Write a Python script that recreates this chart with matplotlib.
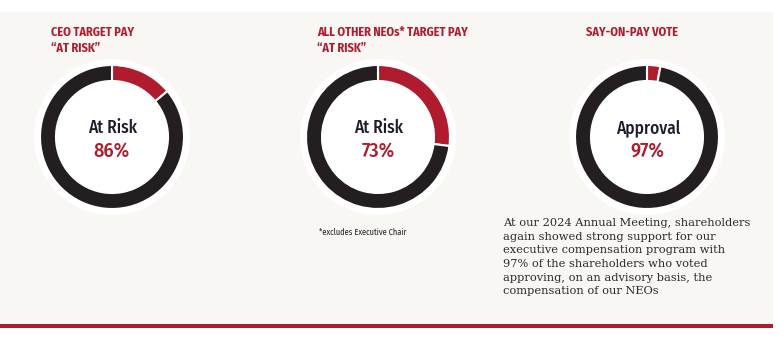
"""Pay-at-risk and say-on-pay donut panel."""

import matplotlib.pyplot as plt
from matplotlib.patches import Circle, Rectangle

plt.rcParams["font.family"] = ["Fira Sans Condensed", "DejaVu Sans"]

titles = ["CEO TARGET PAY\n\u201cAT RISK\u201d",
          "ALL OTHER NEOs* TARGET PAY\n\u201cAT RISK\u201d",
          "SAY-ON-PAY VOTE"]
center_labels = ["At Risk", "At Risk", "Approval"]
values = [86, 73, 97]
footnote = "*excludes Executive Chair"
paragraph = ("At our 2024 Annual Meeting, shareholders\n"
             "again showed strong support for our\n"
             "executive compensation program with\n"
             "97% of the shareholders who voted\n"
             "approving, on an advisory basis, the\n"
             "compensation of our NEOs")

RED = "#b01c2e"
DARK = "#231f20"
BG = "#f8f7f3"
W, H = 782, 341

fig = plt.figure(figsize=(W / 100, H / 100), dpi=100)
fig.patch.set_facecolor("white")
ax = fig.add_axes([0, 0, 1, 1])

# background panel and bottom rule
ax.add_patch(Rectangle((0, H - 324), 773, 312, facecolor=BG, edgecolor="none", zorder=0))
ax.add_patch(Rectangle((0, H - 328), 773, 4, facecolor=RED, edgecolor="none", zorder=0))

centers_x = [112, 378, 647]
center_y = H - 137
radius = 72

for cx, title, label, value in zip(centers_x, titles, center_labels, values):
    ax.add_patch(Circle((cx, center_y), radius + 6, facecolor="white", edgecolor="none", zorder=1))
    wedges, _ = ax.pie(
        [100 - value, value],
        colors=[RED, DARK],
        center=(cx, center_y),
        radius=radius,
        startangle=90,
        counterclock=False,
        wedgeprops=dict(width=16, edgecolor="white", linewidth=1.5),
    )
    for w in wedges:
        w.set_zorder(2)
    ax.text(cx - 61, H - 26, title, ha="left", va="top", fontsize=8.8, fontweight="bold",
            color=RED, linespacing=1.4)
    ax.text(cx + 1, center_y + 9, label, ha="center", va="center", fontsize=12.5,
            fontweight="medium", color="#1c1c2a")
    ax.text(cx, center_y - 14, f"{value}%", ha="center", va="center", fontsize=14.5,
            fontweight="medium", color=RED)

ax.text(319, H - 232, footnote, ha="left", va="center", fontsize=6, color=DARK)
ax.text(503, H - 218, paragraph, ha="left", va="top", fontsize=8.2, color="#2a2a2a",
        family="DejaVu Serif", linespacing=1.46)

ax.set_xlim(0, W)
ax.set_ylim(0, H)
ax.set_aspect("auto")
ax.axis("off")

fig.savefig("out.png", dpi=100, facecolor="white")
